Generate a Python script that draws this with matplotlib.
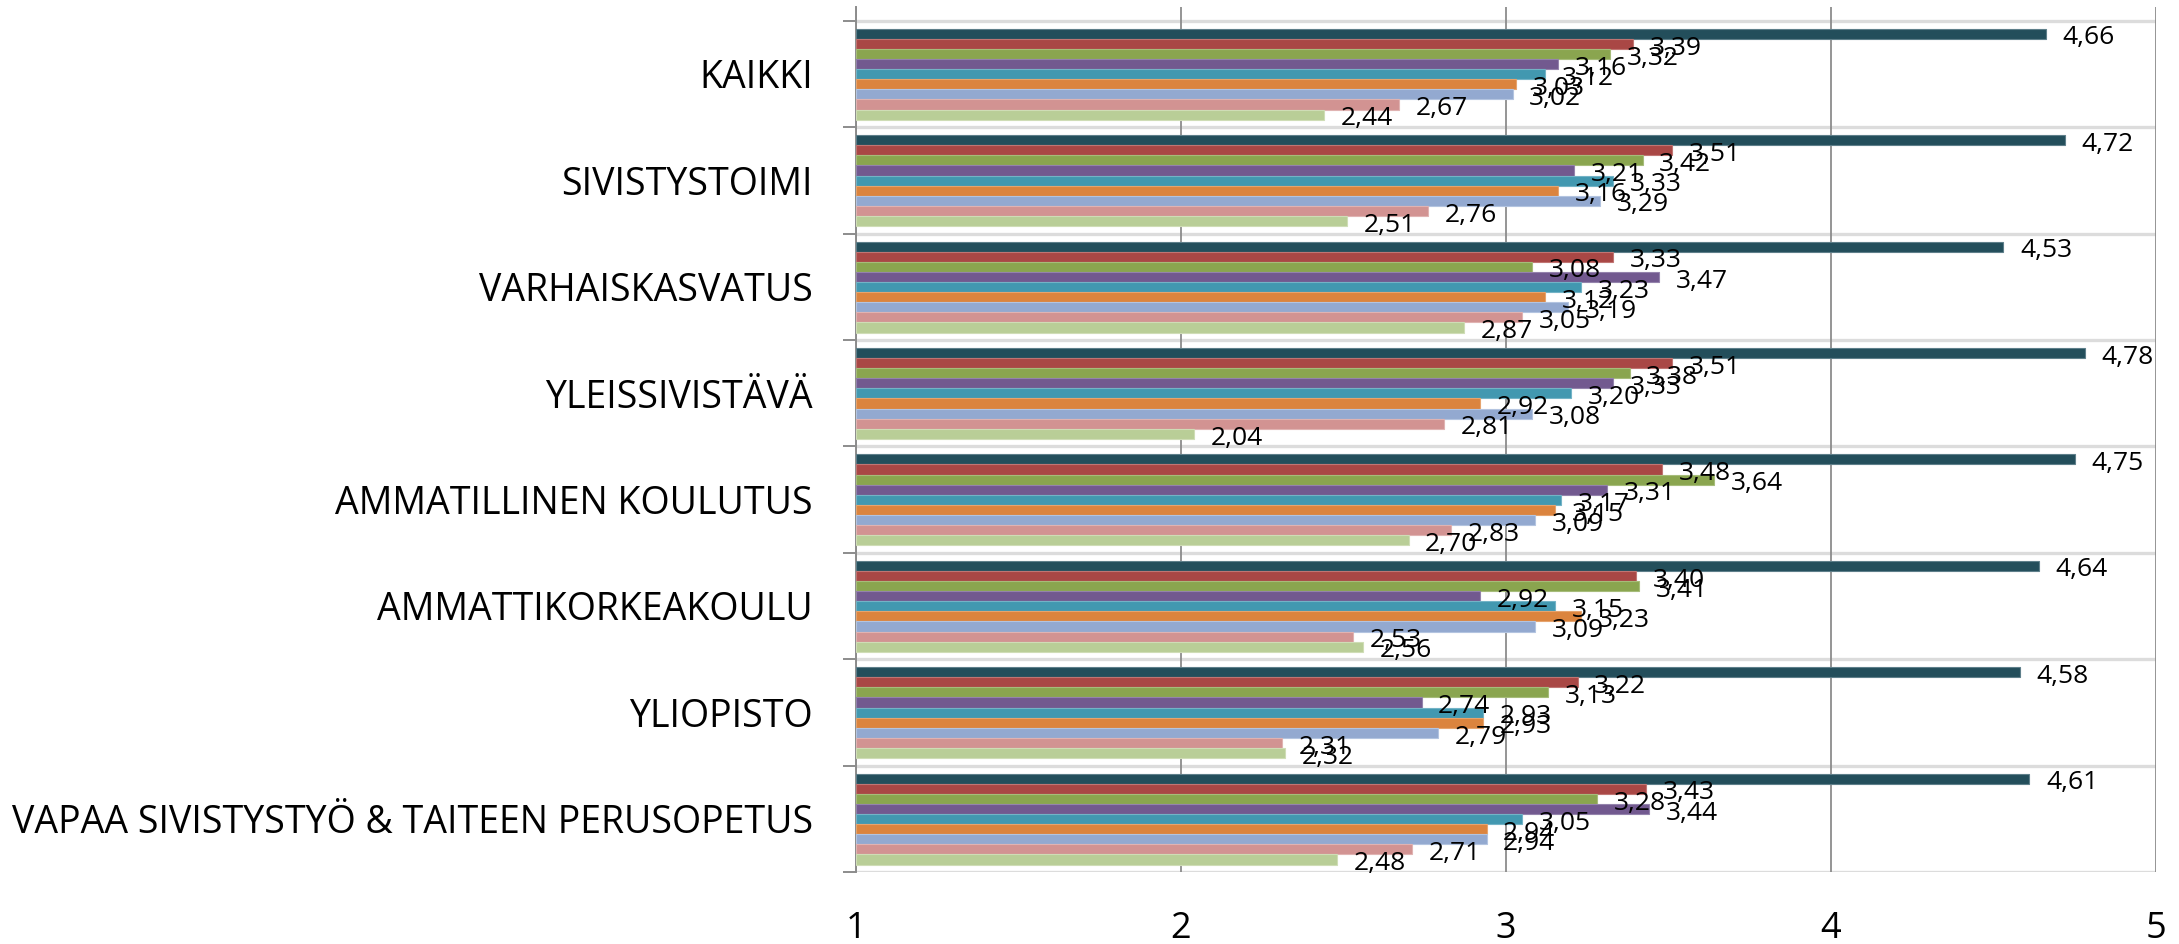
import numpy as np
import matplotlib.pyplot as plt

plt.rcParams['font.family'] = ['Open Sans', 'DejaVu Sans']

categories = [
    "KAIKKI",
    "SIVISTYSTOIMI",
    "VARHAISKASVATUS",
    "YLEISSIVISTÄVÄ",
    "AMMATILLINEN KOULUTUS",
    "AMMATTIKORKEAKOULU",
    "YLIOPISTO",
    "VAPAA SIVISTYSTYÖ & TAITEEN PERUSOPETUS",
]

# one list per series, in category order (top to bottom)
s1 = [4.66, 4.72, 4.53, 4.78, 4.75, 4.64, 4.58, 4.61]
s2 = [3.39, 3.51, 3.33, 3.51, 3.48, 3.40, 3.22, 3.43]
s3 = [3.32, 3.42, 3.08, 3.38, 3.64, 3.41, 3.13, 3.28]
s4 = [3.16, 3.21, 3.47, 3.33, 3.31, 2.92, 2.74, 3.44]
s5 = [3.12, 3.33, 3.23, 3.20, 3.17, 3.15, 2.93, 3.05]
s6 = [3.03, 3.16, 3.12, 2.92, 3.15, 3.23, 2.93, 2.94]
s7 = [3.02, 3.29, 3.19, 3.08, 3.09, 3.09, 2.79, 2.94]
s8 = [2.67, 2.76, 3.05, 2.81, 2.83, 2.53, 2.31, 2.71]
s9 = [2.44, 2.51, 2.87, 2.04, 2.70, 2.56, 2.32, 2.48]
series = [s1, s2, s3, s4, s5, s6, s7, s8, s9]

colors = ['#234E5B', '#A94745', '#8AA54F', '#72598F', '#4298B0',
          '#DB843E', '#93A9D0', '#D29392', '#B9CE97']
edges = ['#5E7F8A', '#C07573', '#A6BC7A', '#9483AC', '#73B3C6',
         '#E6A46E', '#B3C4E0', '#E0B3B2', '#CFDDB6']

xmin = 1
bar_h = 0.095
y = np.arange(len(categories))

fig = plt.figure(figsize=(21.79, 9.44), dpi=100)
ax = fig.add_axes([856 / 2179, 72 / 944, 1300 / 2179, 865 / 944])

for j, (vals, c, ec) in enumerate(zip(series, colors, edges)):
    vals = np.array(vals)
    ypos = y - 0.425 + bar_h * (j + 0.5)
    ax.barh(ypos, vals - xmin, left=xmin, height=bar_h, color=c,
            edgecolor=ec, linewidth=0.8, zorder=3)
    for v, yy in zip(vals, ypos):
        ax.annotate(f"{v:.2f}".replace('.', ','), xy=(v, yy),
                    xytext=(12, -3), textcoords='offset points',
                    ha='left', va='center', fontsize=19, color='black',
                    zorder=5, annotation_clip=False)

# category separators
for b in np.arange(-0.5, len(categories) + 0.5, 1):
    ax.axhline(b, color='#dcdcdc', lw=2.4, zorder=1)

ax.set_xlim(1, 5)
ax.set_ylim(len(categories) - 0.5, -0.629)
ax.set_xticks([1, 2, 3, 4, 5])
ax.grid(axis='x', color='#8c8c8c', lw=1.3, zorder=2)
ax.tick_params(axis='x', length=0, pad=28, labelsize=26)

ax.set_yticks(np.arange(-0.5, len(categories) + 0.5, 1))
ax.set_yticklabels([])
ax.set_yticks(y, minor=True)
ax.set_yticklabels(categories, minor=True)
ax.tick_params(axis='y', which='major', length=9.5, width=1.4, color='#8c8c8c')
ax.tick_params(axis='y', which='minor', length=0, pad=31, labelsize=27)

for side in ['top', 'right', 'bottom']:
    ax.spines[side].set_visible(False)
ax.spines['left'].set_color('#8c8c8c')
ax.spines['left'].set_linewidth(1.4)

fig.savefig('out.png', dpi=100)
